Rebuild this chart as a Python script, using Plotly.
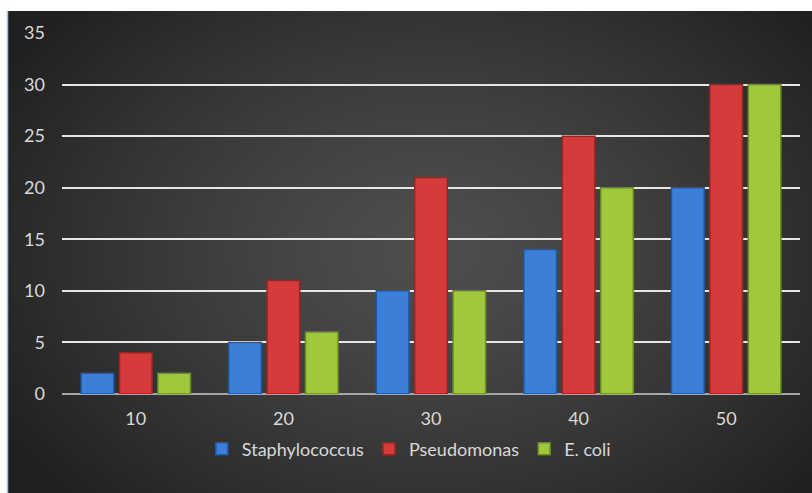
import base64, struct, zlib
import numpy as np
import plotly.graph_objects as go

categories = ["10", "20", "30", "40", "50"]
staphylococcus = [2, 5, 10, 14, 20]
pseudomonas = [4, 11, 21, 25, 30]
ecoli = [2, 6, 10, 20, 30]
y_ticks = [0, 5, 10, 15, 20, 25, 30, 35]

W, H = 812, 493
ML, MR, MT, MB = 62, 12, 33, 99
PW, PH = W - ML - MR, H - MT - MB


def png_data_uri(arr):
    h, w, _ = arr.shape
    raw = b"".join(b"\x00" + arr[i].tobytes() for i in range(h))
    def chunk(t, d):
        c = struct.pack(">I", len(d)) + t + d
        return c + struct.pack(">I", zlib.crc32(t + d) & 0xffffffff)
    png = b"\x89PNG\r\n\x1a\n" + chunk(b"IHDR", struct.pack(">IIBBBBB", w, h, 8, 2, 0, 0, 0))
    png += chunk(b"IDAT", zlib.compress(raw, 9)) + chunk(b"IEND", b"")
    return "data:image/png;base64," + base64.b64encode(png).decode()

# radial gradient background image
bx0, by0 = 8, 11
bw, bh = W - bx0, H - by0
yy, xx = np.mgrid[0:bh, 0:bw]
cx, cy = 430 - bx0, 250 - by0
d = np.sqrt(((xx - cx) / (bw * 0.62)) ** 2 + ((yy - cy) / (bh * 0.75)) ** 2)
d = np.clip(d, 0, 1)
v = 78 - (78 - 32) * d ** 1.3
img = np.stack([v, v, v], axis=-1).astype(np.uint8)
src = png_data_uri(img)

def px_x(p):
    return (p - ML) / PW

def px_y(p):
    return (H - MB - p) / PH

fig = go.Figure()
series = [
    ("Staphylococcus", staphylococcus, "#3b7fd8", "#24579f"),
    ("Pseudomonas", pseudomonas, "#d63b3b", "#9a2424"),
    ("E. coli", ecoli, "#9fc83c", "#6a8a22"),
]
for name, vals, col, edge in series:
    fig.add_trace(go.Bar(
        x=categories, y=vals, name=name,
        marker=dict(color=col, line=dict(color=edge, width=1.5)),
    ))

fig.add_layout_image(dict(
    source=src, xref="paper", yref="paper",
    x=px_x(bx0), y=px_y(by0), sizex=bw / PW, sizey=bh / PH,
    xanchor="left", yanchor="top", sizing="stretch", layer="below",
))
fig.add_shape(type="line", xref="paper", yref="paper",
              x0=px_x(7.5), x1=px_x(7.5), y0=px_y(11), y1=px_y(493),
              line=dict(color="#9dc3e6", width=1.5))

fig.update_layout(
    width=W, height=H,
    margin=dict(l=ML, r=MR, t=MT, b=MB),
    paper_bgcolor="white",
    plot_bgcolor="rgba(0,0,0,0)",
    barmode="group", bargap=0.22, bargroupgap=0.15,
    font=dict(family="Lato, Open Sans, sans-serif", size=18, color="#d9d9d9"),
    showlegend=True,
    legend=dict(orientation="h", x=0.47, xanchor="center", y=px_y(449), yanchor="middle",
                font=dict(size=18, color="#d9d9d9"), bgcolor="rgba(0,0,0,0)",
                itemwidth=30, traceorder="normal"),
    xaxis=dict(showgrid=False, showline=False, zeroline=False,
               ticks="", ticklabelstandoff=12, tickfont=dict(size=18, color="#d9d9d9")),
    yaxis=dict(range=[0, 35], tickvals=y_ticks, showgrid=True, gridcolor="#e6e6e6", gridwidth=2,
               zeroline=True, zerolinecolor="#a6a6a6", zerolinewidth=2,
               ticks="", ticklabelstandoff=16, tickfont=dict(size=18, color="#d9d9d9")),
)

fig.write_html("out.html")
